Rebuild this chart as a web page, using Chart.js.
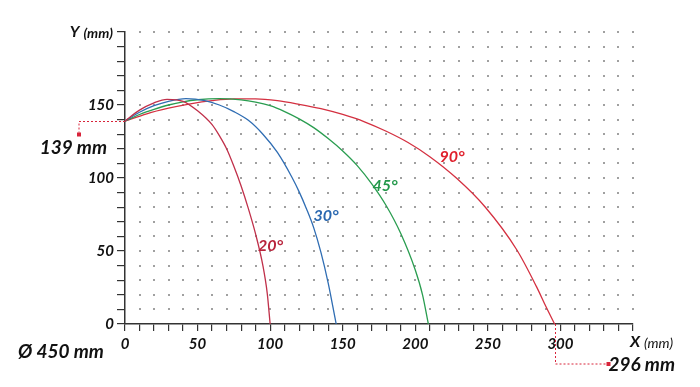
<!DOCTYPE html>
<html>
<head>
<meta charset="utf-8">
<script src="https://cdn.jsdelivr.net/npm/chart.js@4/dist/chart.umd.min.js"></script>
<style>
  html, body { margin: 0; padding: 0; background: #fff; }
  #wrap { width: 700px; height: 387px; }
</style>
</head>
<body>
<div id="wrap"><canvas id="chart" width="700" height="387"></canvas></div>
<script>
// trajectories (x, y in mm)
const x20 = [0, 10, 20, 29, 40, 50, 60, 65, 70, 75, 80, 85, 90, 95, 98, 100];
const y20 = [139, 146.5, 151.5, 153.9, 152.5, 146, 136.5, 129, 120, 108, 94.5, 79, 61.5, 40, 21, 0];

const x30 = [0, 10, 20, 30, 42, 55, 65, 75, 85, 95, 105, 115, 120, 125, 130, 135, 140, 143, 145.5];
const y30 = [139, 145, 149.5, 152.5, 154.3, 153, 150, 145.5, 139.5, 130, 117.5, 100.5, 90.5, 79, 66, 49, 28, 13, 0];

const x45 = [0, 10, 20, 30, 40, 50, 65, 80, 90, 100, 110, 120, 130, 140, 150, 160, 170, 180, 190, 200, 205, 209];
const y45 = [139, 143.5, 147, 150, 152.2, 153.6, 154.3, 153.5, 152, 149.5, 145.5, 140.5, 134.5, 127, 118.5, 108.5, 96, 81, 62, 37, 20, 0];

const x90 = [0, 15, 30, 45, 60, 75, 90, 105, 120, 135, 150, 165, 180, 195, 210, 228.5, 248, 270, 283.5, 290, 296];
const y90 = [139, 144, 147.8, 150.8, 153, 154.2, 154.2, 153, 150.5, 147.5, 143.5, 138.5, 132, 124.3, 114.6, 99.8, 80.3, 50.7, 25.6, 12, 0];

const angleLabels = ['20°', '30°', '45°', '90°'];
const labelX = [100.3, 138.5, 179.2, 225.3];
const labelY = [53.4, 74, 94.5, 114.4];

const startHeight = 139;   // mm
const reach = 296;         // mm
const diameterText = 'Ø 450 mm';

const lineColors = ['#c0304a', '#2f6db3', '#2a9d50', '#d43040'];
const textColors = ['#b8243c', '#2a68b0', '#22984a', '#e0202c'];
const guideRed = '#d8243a';

const pts = (xs, ys) => xs.map((x, i) => ({ x, y: ys[i] }));
const series = [pts(x20, y20), pts(x30, y30), pts(x45, y45), pts(x90, y90)];

const tickFont = { family: 'Lato', style: 'italic', weight: 'bold', size: 15 };

const dotGrid = {
  id: 'dotGrid',
  beforeDatasetsDraw(chart) {
    const { ctx, scales: { x, y } } = chart;
    ctx.save();
    ctx.fillStyle = '#a0a0a0';
    x.ticks.forEach(tx => {
      if (tx.value === 0) return;
      const px = x.getPixelForValue(tx.value);
      y.ticks.forEach(ty => {
        if (ty.value === 0) return;
        const py = y.getPixelForValue(ty.value);
        ctx.fillRect(Math.round(px) - 1, Math.round(py) - 1, 2, 2);
      });
    });
    ctx.restore();
  }
};

const notes = {
  id: 'notes',
  afterDraw(chart) {
    const { ctx, scales: { x, y } } = chart;
    ctx.save();

    // axis titles
    ctx.fillStyle = '#111';
    ctx.textBaseline = 'middle';
    let py = y.getPixelForValue(200);
    ctx.textAlign = 'right';
    ctx.font = 'italic bold 14px Lato';
    const mmW = ctx.measureText('(mm)').width;
    ctx.fillText('(mm)', x.left - 12, py + 1);
    ctx.font = 'italic bold 16px Lato';
    ctx.fillText('Y', x.left - 12 - mmW - 4, py);

    let px = x.getPixelForValue(350);
    ctx.textAlign = 'left';
    ctx.font = 'italic bold 16px Lato';
    ctx.fillText('X', px - 3, y.bottom + 18);
    const xW = ctx.measureText('X').width;
    ctx.font = 'italic 14px Lato';
    ctx.fillText('(mm)', px - 3 + xW + 4, y.bottom + 19);

    // start height guide
    ctx.strokeStyle = guideRed;
    ctx.lineWidth = 1;
    ctx.setLineDash([2, 2]);
    py = Math.round(y.getPixelForValue(startHeight)) + 0.5;
    const gx = x.left - 46;
    ctx.beginPath();
    ctx.moveTo(x.left, py);
    ctx.lineTo(gx, py);
    ctx.lineTo(gx, py + 11);
    ctx.stroke();
    ctx.setLineDash([]);
    ctx.fillStyle = guideRed;
    ctx.fillRect(gx - 2, py + 11, 4, 4);

    ctx.fillStyle = '#111';
    ctx.font = 'italic bold 19px Lato';
    ctx.textAlign = 'right';
    ctx.textBaseline = 'alphabetic';
    ctx.fillText(startHeight + ' mm', x.left - 18, py + 32);

    // reach guide
    px = Math.round(x.getPixelForValue(reach)) + 0.5;
    ctx.strokeStyle = guideRed;
    ctx.setLineDash([2, 2]);
    ctx.beginPath();
    ctx.moveTo(px, y.bottom);
    ctx.lineTo(px, y.bottom + 40);
    ctx.lineTo(px + 52, y.bottom + 40);
    ctx.stroke();
    ctx.setLineDash([]);
    ctx.fillStyle = guideRed;
    ctx.fillRect(px + 51, y.bottom + 38, 4, 4);
    ctx.fillStyle = '#111';
    ctx.textAlign = 'left';
    ctx.fillText(reach + ' mm', px + 53, y.bottom + 47);

    // diameter
    ctx.fillText(diameterText, 18, y.bottom + 34);

    // angle labels
    ctx.font = 'italic bold 16px Lato';
    ctx.textAlign = 'center';
    ctx.textBaseline = 'middle';
    angleLabels.forEach((t, i) => {
      ctx.fillStyle = textColors[i];
      ctx.fillText(t, x.getPixelForValue(labelX[i]), y.getPixelForValue(labelY[i]));
    });
    ctx.restore();
  }
};

new Chart(document.getElementById('chart'), {
  type: 'scatter',
  data: {
    datasets: series.map((d, i) => ({
      label: angleLabels[i],
      data: d,
      showLine: true,
      borderColor: lineColors[i],
      borderWidth: 1.3,
      pointRadius: 0,
      cubicInterpolationMode: 'monotone',
      fill: false,
      clip: false
    }))
  },
  options: {
    responsive: false,
    animation: false,
    layout: { padding: { top: 32, right: 67, left: 0, bottom: 0 } },
    plugins: { legend: { display: false }, tooltip: { enabled: false } },
    scales: {
      x: {
        type: 'linear', min: 0, max: 350,
        afterFit(s) { s.height = 63; },
        border: { color: '#333', width: 1.5 },
        grid: { drawOnChartArea: false, drawTicks: true, tickLength: 7, color: '#333', lineWidth: 1.2 },
        ticks: {
          stepSize: 10, autoSkip: false, maxRotation: 0, padding: 4,
          color: '#111', font: tickFont,
          callback: v => (v % 50 === 0 && v !== 350) ? String(v) : ''
        }
      },
      y: {
        type: 'linear', min: 0, max: 200,
        afterFit(s) { s.width = 125; },
        border: { color: '#333', width: 1.5 },
        grid: { drawOnChartArea: false, drawTicks: true, tickLength: 8, color: '#333', lineWidth: 1.2 },
        ticks: {
          stepSize: 10, autoSkip: false, padding: 3,
          color: '#111', font: tickFont,
          callback: v => (v % 50 === 0 && v !== 200) ? String(v) : ''
        }
      }
    }
  },
  plugins: [dotGrid, notes]
});
</script>
</body>
</html>
